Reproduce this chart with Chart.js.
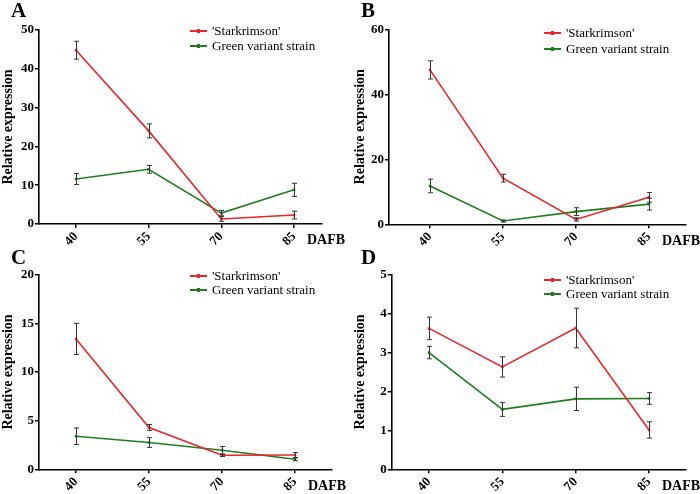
<!DOCTYPE html>
<html><head><meta charset="utf-8">
<script src="https://cdn.jsdelivr.net/npm/chart.js@4"></script>
<style>
html,body{margin:0;padding:0;background:#fff;}
#wrap{position:relative;width:700px;height:494px;overflow:hidden;font-family:'Liberation Serif','Times New Roman',serif;}
canvas{position:absolute;}
.letter{position:absolute;font-weight:bold;font-size:21px;line-height:21px;}
.dafb{position:absolute;font-weight:bold;font-size:14px;line-height:14px;}
.leg{position:absolute;font-size:13px;line-height:14px;white-space:nowrap;}
.leg .ln{display:inline-block;position:relative;width:17px;height:2px;vertical-align:middle;margin-right:5px;top:-1px;}
.leg .ln i{position:absolute;left:7px;top:-1px;width:3px;height:4px;}
</style></head><body>
<div id="wrap"></div>
<script>
const days = [40, 55, 70, 85];
const seriesNames = ["'Starkrimson'", "Green variant strain"];
// Panel A
const aRed = [44.8, 24.0, 1.3, 2.3];
const aRedErr = [2.3, 1.8, 0.6, 1.0];
const aGreen = [11.6, 14.1, 2.8, 8.8];
const aGreenErr = [1.4, 1.0, 0.7, 1.7];
// Panel B
const bRed = [47.5, 14.2, 1.5, 8.3];
const bRedErr = [2.8, 1.2, 0.5, 1.5];
const bGreen = [11.8, 1.0, 3.9, 6.2];
const bGreenErr = [2.1, 0.3, 1.2, 1.8];
// Panel C
const cRed = [13.4, 4.3, 1.44, 1.47];
const cRedErr = [1.6, 0.3, 0.12, 0.25];
const cGreen = [3.4, 2.75, 1.95, 1.03];
const cGreenErr = [0.85, 0.5, 0.4, 0.15];
// Panel D
const dRed = [3.62, 2.63, 3.63, 1.01];
const dRedErr = [0.29, 0.26, 0.51, 0.21];
const dGreen = [3.0, 1.54, 1.81, 1.82];
const dGreenErr = [0.16, 0.18, 0.3, 0.15];
// y ticks
const aTicks = [0, 10, 20, 30, 40, 50];
const bTicks = [0, 20, 40, 60];
const cTicks = [0, 5, 10, 15, 20];
const dTicks = [0, 1, 2, 3, 4, 5];

const RED = '#e8262b', GREEN = '#1f7d1f';

const panels = [
  {id:'A', ox:0, oy:0, red:aRed, redErr:aRedErr, green:aGreen, greenErr:aGreenErr, ticks:aTicks,
   L:39, R:322, T:30, B:224, xmin:32.36, xmax:90.78, legX:190, legY:24, legH:14.5, dafbX:307, dafbY:233},
  {id:'B', ox:350, oy:0, red:bRed, redErr:bRedErr, green:bGreen, greenErr:bGreenErr, ticks:bTicks,
   L:39, R:335.7, T:29.3, B:224.3, xmin:31.58, xmax:92.54, legX:194, legY:26, legH:16, dafbX:312, dafbY:234},
  {id:'C', ox:0, oy:247, red:cRed, redErr:cRedErr, green:cGreen, greenErr:cGreenErr, ticks:cTicks,
   L:39, R:332, T:27.7, B:222.3, xmin:32.4, xmax:92.6, legX:190, legY:22, legH:13.5, dafbX:308, dafbY:232},
  {id:'D', ox:350, oy:247, red:dRed, redErr:dRedErr, green:dGreen, greenErr:dGreenErr, ticks:dTicks,
   L:41.7, R:335.7, T:27.7, B:222.3, xmin:32.37, xmax:92.5, legX:194, legY:26, legH:14, dafbX:312, dafbY:232}
];

const errPlugin = {
  id:'errbars',
  afterDatasetsDraw(chart){
    const ctx = chart.ctx, xs = chart.scales.x, ys = chart.scales.y;
    chart.data.datasets.forEach(ds=>{
      ctx.save();
      ctx.strokeStyle = '#333';
      ctx.lineWidth = 1;
      ds.data.forEach((p,i)=>{
        const e = ds.err[i];
        const x = Math.round(xs.getPixelForValue(p.x)) + 0.5;
        const y1 = ys.getPixelForValue(p.y + e), y2 = ys.getPixelForValue(p.y - e);
        ctx.beginPath();
        ctx.moveTo(x, y1); ctx.lineTo(x, y2);
        ctx.moveTo(x-2.5, y1); ctx.lineTo(x+2.5, y1);
        ctx.moveTo(x-2.5, y2); ctx.lineTo(x+2.5, y2);
        ctx.stroke();
      });
      ctx.restore();
    });
  }
};

const wrap = document.getElementById('wrap');
const font = "'Liberation Serif','Times New Roman',serif";

panels.forEach(p=>{
  const cv = document.createElement('canvas');
  cv.width = 350; cv.height = 247;
  cv.style.left = p.ox+'px'; cv.style.top = p.oy+'px';
  cv.style.width = '350px'; cv.style.height = '247px';
  wrap.appendChild(cv);

  const mk = (vals) => days.map((d,i)=>({x:d, y:vals[i]}));
  new Chart(cv.getContext('2d'), {
    type:'line',
    data:{datasets:[
      {label:seriesNames[0], data:mk(p.red), err:p.redErr, borderColor:RED, backgroundColor:RED,
       borderWidth:1.6, pointRadius:1.8, pointStyle:'rect', pointBorderWidth:0, tension:0},
      {label:seriesNames[1], data:mk(p.green), err:p.greenErr, borderColor:GREEN, backgroundColor:GREEN,
       borderWidth:1.6, pointRadius:1.8, pointStyle:'rect', pointBorderWidth:0, tension:0}
    ]},
    options:{
      responsive:false, animation:false, devicePixelRatio:1,
      layout:{padding:{top:p.T, right:350-p.R, left:0, bottom:0}},
      plugins:{legend:{display:false}, tooltip:{enabled:false}},
      scales:{
        x:{type:'linear', min:p.xmin, max:p.xmax,
           afterBuildTicks:(s)=>{ s.ticks = days.map(v=>({value:v})); },
           afterFit:(s)=>{ s.height = 247 - p.B; },
           grid:{display:true, drawOnChartArea:false, drawTicks:true, tickLength:4, color:'#000', lineWidth:1.5},
           border:{display:true, color:'#000', width:1.6},
           ticks:{color:'#000', font:{family:font, size:13, weight:'bold'}, minRotation:45, maxRotation:45, padding:1,
                  autoSkip:false, callback:(v)=>String(v)}
        },
        y:{min:0, max:p.ticks[p.ticks.length-1],
           afterBuildTicks:(s)=>{ s.ticks = p.ticks.map(v=>({value:v})); },
           afterFit:(s)=>{ s.width = p.L; },
           grid:{display:true, drawOnChartArea:false, drawTicks:true, tickLength:4, color:'#000', lineWidth:1.5},
           border:{display:true, color:'#000', width:1.6},
           ticks:{color:'#000', font:{family:font, size:13, weight:'bold'}, padding:1},
           title:{display:true, text:'Relative expression', color:'#000', padding:{top:(p.id==='B'||p.id==='D')?2:0, bottom:0},
                  font:{family:font, size:14, weight:'bold'}}
        }
      }
    },
    plugins:[errPlugin]
  });

  const let_ = document.createElement('div');
  let_.className='letter'; let_.textContent=p.id;
  let_.style.left=(p.ox+11)+'px'; let_.style.top=(p.oy+0)+'px';
  wrap.appendChild(let_);

  const df = document.createElement('div');
  df.className='dafb'; df.textContent='DAFB';
  df.style.left=(p.ox+p.dafbX)+'px'; df.style.top=(p.oy+p.dafbY)+'px';
  wrap.appendChild(df);

  const lg = document.createElement('div');
  lg.className='leg';
  lg.style.left=(p.ox+p.legX)+'px'; lg.style.top=(p.oy+p.legY)+'px';
  [[seriesNames[0],RED],[seriesNames[1],GREEN]].forEach(([t,c])=>{
    const r = document.createElement('div');
    r.style.height = p.legH+'px';
    const ln = document.createElement('span'); ln.className='ln'; ln.style.background=c;
    const dot = document.createElement('i'); dot.style.background=c; ln.appendChild(dot);
    r.appendChild(ln); r.appendChild(document.createTextNode(t));
    lg.appendChild(r);
  });
  wrap.appendChild(lg);
});
</script>
</body></html>
